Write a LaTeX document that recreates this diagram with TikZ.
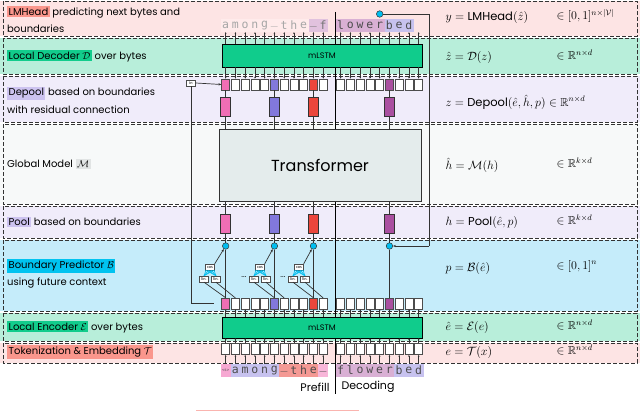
\documentclass[tikz,border=0pt]{standalone}
\usepackage{fontspec}
\usepackage{amsmath,amssymb}
\setmainfont{Poppins}
\newfontfamily\monof{DejaVu Sans Mono}
\newfontfamily\lblf{Lato}
\usetikzlibrary{arrows.meta}
\definecolor{bPink}{RGB}{253,228,228}
\definecolor{bGreen}{RGB}{184,238,218}
\definecolor{bLav}{RGB}{240,236,250}
\definecolor{bGray}{RGB}{247,249,249}
\definecolor{bBlue}{RGB}{197,236,250}
\definecolor{hSalmon}{RGB}{250,150,140}
\definecolor{hGreen}{RGB}{18,204,140}
\definecolor{hLav}{RGB}{205,195,240}
\definecolor{hCyan}{RGB}{0,195,240}
\definecolor{hGray}{RGB}{225,228,228}
\definecolor{cPink}{RGB}{240,110,180}
\definecolor{cBlue}{RGB}{130,120,220}
\definecolor{cRed}{RGB}{235,70,60}
\definecolor{cPur}{RGB}{170,80,160}
\definecolor{mGreen}{RGB}{16,204,140}
\definecolor{trBg}{RGB}{228,236,236}
\definecolor{dotC}{RGB}{0,190,240}
\definecolor{uline}{RGB}{250,180,175}
\tikzset{
 band/.style={draw=black!80,line width=0.8pt,dash pattern=on 4pt off 2pt},
 lbl/.style={anchor=west,inner sep=1pt,font=\fontsize{10}{12}\selectfont},
 hl/.style={fill=#1,inner sep=1.5pt},
 frm/.style={anchor=west,font=\fontsize{11.5}{13}\selectfont},
 cell/.style={draw=black!70,fill=white,minimum width=8pt,minimum height=11pt,inner sep=0pt,line width=0.5pt},
 tall/.style={draw=black!80,minimum width=10pt,minimum height=19pt,inner sep=0pt,line width=0.6pt},
 mlstm/.style={draw=black,fill=mGreen,line width=0.8pt,inner sep=0pt},
 tk/.style={line width=0.5pt,black!80},
 ln/.style={line width=0.7pt,black!80},
 bdot/.style={circle,draw=black!80,fill=dotC,minimum size=6.5pt,inner sep=0pt,line width=0.5pt},
 small/.style={draw=black!70,fill=white,inner sep=0.8pt,font=\lblf\fontsize{4}{4}\selectfont,minimum width=9pt,minimum height=6pt},
 let/.style={inner sep=0pt,minimum width=9.75pt,minimum height=13pt,font=\monof\fontsize{11.5}{11.5}\selectfont}
}
\begin{document}
\begin{tikzpicture}[x=1pt,y=-1pt]
\useasboundingbox (0,0) rectangle (640,412);
\foreach \a/\b/\c in {1/36/bPink,38/74/bGreen,76/122/bLav,124/204/bGray,206/238/bLav,240/311/bBlue,313/341/bGreen,343/363/bPink}
  \fill[\c] (0,\a) rectangle (640,\b);
\foreach \a/\b in {1/36,38/74,76/122,124/204,206/238,240/311,313/341,343/363}
  \draw[band] (3,\a) rectangle (637,\b);
\node[lbl] (l1) at (6,12) {\tikz[baseline]\node[hl=hSalmon,anchor=base]{LMHead};\ predicting next bytes and};
\node[lbl] (l1b) at (6,29) {boundaries};
\node[lbl] (l2) at (6,56) {\tikz[baseline]\node[hl=hGreen,anchor=base]{Local Decoder $\mathcal{D}$};\ over bytes};
\node[lbl] (l3) at (6,93) {\tikz[baseline]\node[hl=hLav,anchor=base]{Depool};\ based on boundaries};
\node[lbl] (l3b) at (6,110) {with residual connection};
\node[lbl] (l4) at (6,164) {Global Model \tikz[baseline]\node[hl=hGray,anchor=base]{$\mathcal{M}$};};
\node[lbl] (l5) at (6,222) {\tikz[baseline]\node[hl=hLav,anchor=base]{Pool};\ based on boundaries};
\node[lbl] (l6) at (6,266) {\tikz[baseline]\node[hl=hCyan,anchor=base]{Boundary Predictor $\mathcal{B}$};};
\node[lbl] (l6b) at (6,283) {using future context};
\node[lbl] (l7) at (6,327) {\tikz[baseline]\node[hl=hGreen,anchor=base]{Local Encoder $\mathcal{E}$};\ over bytes};
\node[lbl] (l8) at (6,352) {\tikz[baseline]\node[hl=hSalmon,anchor=base]{Tokenization \& Embedding $\mathcal{T}$};};
\node[frm] (f1) at (442,18) {$y=\mathrm{LMHead}(\hat z)$};
\node[frm] (g1) at (553,16) {$\in[0,1]^{n\times|\mathcal{V}|}$};
\node[frm] (f2) at (442,57) {$\hat z=\mathcal{D}(z)$};
\node[frm] (g2) at (553,55) {$\in\mathbb{R}^{n\times d}$};
\node[frm] (f3) at (442,102) {$z=\mathrm{Depool}(\hat e,\hat h,p)\in\mathbb{R}^{n\times d}$};
\node[frm] (f4) at (442,165) {$\hat h=\mathcal{M}(h)$};
\node[frm] (g4) at (553,163) {$\in\mathbb{R}^{k\times d}$};
\node[frm] (f5) at (442,222) {$h=\mathrm{Pool}(\hat e,p)$};
\node[frm] (g5) at (553,220) {$\in\mathbb{R}^{k\times d}$};
\node[frm] (f6) at (442,268) {$p=\mathcal{B}(\hat e)$};
\node[frm] (g6) at (553,266) {$\in[0,1]^{n}$};
\node[frm] (f7) at (442,327) {$\hat e=\mathcal{E}(e)$};
\node[frm] (g7) at (553,325) {$\in\mathbb{R}^{n\times d}$};
\node[frm] (f8) at (442,352) {$e=\mathcal{T}(x)$};
\node[frm] (g8) at (553,350) {$\in\mathbb{R}^{n\times d}$};
\coordinate (pd1) at (335.5,12);
\coordinate (pd2) at (335.5,394);
\draw[line width=1pt] (pd1) -- (pd2);
\node[mlstm,minimum width=200pt,minimum height=23pt] (dec) at (322,55.5) {};
\node[font=\fontsize{8}{9}\selectfont,inner sep=0pt] (decl) at (322,55.5) {mLSTM};
\node[mlstm,minimum width=200pt,minimum height=21pt] (enc) at (322,327.5) {};
\node[font=\fontsize{8}{9}\selectfont,inner sep=0pt] (encl) at (322,327.5) {mLSTM};
\node[draw=black!80,fill=trBg,line width=0.8pt,minimum width=202pt,minimum height=72pt,inner sep=0pt] (tr) at (320,165) {};
\node[font=\fontsize{16}{19}\selectfont] (trl) at (320,165) {Transformer};
\foreach \i/\ch/\bg/\fg in {0/a/red!8/black!35,1/m/red!8/black!35,2/o/red!8/black!35,3/n/red!8/black!35,4/g/red!8/black!35,5/\_/red!8/black!35,6/t/red!8/black!35,7/h/red!8/black!35,8/e/red!8/black!35,9/\_/cPur!35/black!55,10/f/cPur!35/black!55}{
  \pgfmathsetmacro\x{225.7+9.75*\i}
  \node[let,fill=\bg,text=\fg] (tl\i) at (\x,25.5) {\ch};}
\foreach \i/\ch/\bg in {0/l/cPur!45,1/o/cPur!45,2/w/cPur!45,3/e/cPur!45,4/r/cPur!45,5/b/cBlue!45,6/e/cBlue!45,7/d/cBlue!45}{
  \pgfmathsetmacro\x{340.7+9.75*\i}
  \node[let,fill=\bg,text=black!70] (tr\i) at (\x,25.5) {\ch};}
\foreach \i/\ch/\bg in {0/{\fontsize{4}{4}\selectfont<s>}/cPink!60,1/a/cBlue!45,2/m/cBlue!45,3/o/cBlue!45,4/n/cBlue!45,5/g/cBlue!45,6/\_/cRed!55,7/t/cRed!55,8/h/cRed!55,9/e/cRed!55,10/\_/cPink!50}{
  \pgfmathsetmacro\x{225.7+9.75*\i}
  \node[let,fill=\bg,text=black!70] (bl\i) at (\x,370.5) {\ch};}
\foreach \i/\ch/\bg in {0/f/cPur!45,1/l/cPur!45,2/o/cPur!45,3/w/cPur!45,4/e/cPur!45,5/r/cPur!45,6/b/cBlue!45,7/e/cBlue!45,8/d/cBlue!45}{
  \pgfmathsetmacro\x{340.7+9.75*\i}
  \node[let,fill=\bg,text=black!70] (br\i) at (\x,370.5) {\ch};}
\foreach \x in {225.7,235.45,245.2,254.95,264.7,274.45,284.2,293.95,303.7,313.45,323.2,340.7,350.45,360.2,369.95,379.7,389.45,399.2,408.95,418.7}{
  \node[cell] (dc) at (\x,84.5) {};
  \node[cell] (bc) at (\x,303.5) {};
  \node[cell] (tc) at (\x,349) {};
  \draw[tk,-{Stealth[length=2pt]}] (\x,67) -- (dc.north);
  \draw[tk,-{Stealth[length=2pt]}] (\x,44) -- (\x,32);
  \draw[tk,-{Stealth[length=2pt]}] (\x,317) -- (bc.south);
  \draw[tk,-{Stealth[length=2pt]}] (tc.north) -- (\x,338);
  \draw[tk,-{Stealth[length=2pt]}] (\x,364) -- (tc.south);
}
\foreach \x/\c/\n in {225.7/cPink/a,274.45/cBlue/b,313.45/cRed/c,389.45/cPur/d}{
  \node[cell,fill=\c] (dcc\n) at (\x,84.5) {};
  \node[cell,fill=\c] (bcc\n) at (\x,303.5) {};
  \node[tall,fill=\c] (dp\n) at (\x,106.5) {};
  \node[tall,fill=\c] (pl\n) at (\x,223.5) {};
  \node[bdot] (cd\n) at (\x,246) {};
  \draw[ln] (dcc\n) -- (dp\n);
  \draw[ln] (dp\n) -- (tr.north -| dp\n);
  \draw[ln] (tr.south -| pl\n) -- (pl\n);
  \draw[ln] (pl\n) -- (cd\n);
  \draw[ln] (cd\n) -- (bcc\n);
}
\foreach \cx/\n/\nx in {210/a/235.45,260/b/284.2,299/c/323.2}{
  \node[small] (cos\n) at (\cx,267) {cos};
  \node[small] (la\n) at (\cx-6,279) {lin.};
  \node[small] (lb\n) at (\cx+6,279) {lin.};
  \foreach \o in {-4,-1.5,1.5,4}{
    \draw[dotC,line width=0.6pt] (la\n.north) -- ([xshift=\o pt]cos\n.south);
    \draw[dotC,line width=0.6pt] (lb\n.north) -- ([xshift=\o pt]cos\n.south);}
  \draw[ln,-{Stealth[length=3pt]}] (cos\n.north east) -- (cd\n);
  \draw[ln] (la\n.south) -- (bcc\n.north);
  \draw[ln] (lb\n.south) -- (\nx,298);
}
\node[font=\fontsize{8}{8}\selectfont] (dots1) at (244,277) {...};
\node[font=\fontsize{8}{8}\selectfont] (dots2) at (283,277) {...};
\node[small] (in) at (191,83) {in};
\draw[ln,-{Stealth[length=3pt]}] (in.east) -- (dcca.west);
\coordinate (r1) at (191,303);
\coordinate (r2) at (214,303);
\draw[ln] (in.south) -- (r1) -- (r2);
\node[bdot] (top) at (379.7,14) {};
\coordinate (t1) at (429,14);
\coordinate (t2) at (429,246);
\draw[ln] (top) -- (t1) -- (t2);
\draw[ln,-{Stealth[length=3pt]}] (t2) -- (cdd.east);
\node[anchor=east,font=\fontsize{11}{13}\selectfont] (pre) at (333,387) {Prefill};
\node[anchor=west,font=\fontsize{11}{13}\selectfont] (decd) at (338,387) {Decoding};
\coordinate (u1) at (196,410);
\coordinate (u2) at (359,410);
\draw[uline,line width=1pt] (u1) -- (u2);
\end{tikzpicture}
\end{document}
